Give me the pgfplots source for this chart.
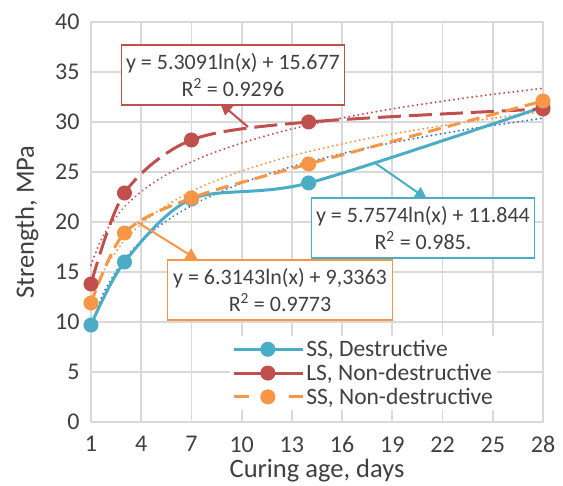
\documentclass[border=0pt]{standalone}
\usepackage{fontspec}
\setmainfont{Carlito}
\usepackage{pgfplots}
\pgfplotsset{compat=1.18}
\usetikzlibrary{arrows.meta}

\definecolor{ssd}{HTML}{4BACC6}
\definecolor{lsn}{HTML}{C0504D}
\definecolor{ssn}{HTML}{F79646}
\definecolor{fitb}{HTML}{4472C4}
\definecolor{gridgray}{HTML}{D9D9D9}
\definecolor{txt}{HTML}{404040}

% measured strengths, MPa
\pgfplotstableread{
day  ssd   lsn   ssn
1    9.7   13.8  11.9
3    16.0  22.9  18.9
7    22.3  28.2  22.4
14   23.9  30.0  25.8
28   31.5  31.3  32.1
}\strength

% logarithmic trendlines, tabulated from the equations shown
\pgfplotstableread{
x    red    org    blu
1    15.68  11.84  9.34
1.5  17.83  14.18  11.90
2    19.36  15.83  13.71
3    21.51  18.17  16.27
4    23.04  19.83  18.09
5    24.22  21.11  19.50
6    25.19  22.16  20.65
7    26.01  23.05  21.62
8    26.72  23.82  22.47
10   27.90  25.10  23.88
12   28.87  26.15  25.03
14   29.69  27.04  26.00
17   30.72  28.16  27.23
20   31.58  29.09  28.25
24   32.55  30.14  29.40
28   33.37  31.03  30.38
}\trend

\pgfplotsset{
  fitline/.style={line width=2.2pt, line cap=round, dash pattern=on 0.01pt off 4.6pt, smooth, forget plot, mark=none},
}
\tikzset{
  eqbox/.style={draw, line width=1.4pt, fill=white, align=center, text=txt,
    font=\fontsize{22}{27}\selectfont, minimum width=223pt, minimum height=60pt, inner sep=2pt},
  eqarrow/.style={line width=2pt, -{Triangle[length=12pt,width=12pt]}},
}

\begin{document}
\begin{tikzpicture}
\begin{axis}[
  name=ax,
  scale only axis, width=452pt, height=400pt,
  xmin=1, xmax=28, ymin=0, ymax=40,
  xtick={1,4,...,28}, ytick={0,5,...,40},
  grid=major, major grid style={line width=1.8pt, color=gridgray},
  axis line style={line width=1.8pt, color=gridgray},
  tick style={draw=none},
  ticklabel style={font=\fontsize{24}{28}\selectfont, text=txt},
  /pgf/number format/assume math mode=true,
  xticklabel style={yshift=-11pt},
  yticklabel style={xshift=-8pt},
  xlabel={Curing age, days}, ylabel={Strength, MPa},
  label style={font=\fontsize{26.5}{30}\selectfont, text=txt},
  xlabel style={at={(axis description cs:0.5,-0.1215)}, anchor=center},
  ylabel style={at={(axis description cs:-0.1416,0.5)}, anchor=center},
  clip=false,
  legend cell align=left,
  legend style={at={(0.898,0.03)}, anchor=south east, draw=none, fill=white,
    font=\fontsize{23.5}{26}\selectfont, text=txt, row sep=2pt,
    inner sep=2pt, nodes={inner sep=2pt}},
  legend image code/.code={
    \draw[mark repeat=2, mark phase=2] plot coordinates {(0pt,0pt) (34pt,0pt) (69pt,0pt)};},
  every axis plot/.append style={mark=*, mark size=6pt},
]
\addplot[fitline, color=lsn] table[x=x, y=red] {\trend};
\addplot[fitline, color=ssn] table[x=x, y=org] {\trend};
\addplot[fitline, color=fitb] table[x=x, y=blu] {\trend};

\addplot[color=ssd, line width=3pt, smooth, mark options={solid}] table[x=day, y=ssd] {\strength};
\addplot[color=lsn, line width=3pt, smooth, dash pattern=on 23pt off 8pt, mark options={solid},
  legend image post style={solid}] table[x=day, y=lsn] {\strength};
\addplot[color=ssn, line width=3pt, smooth, dash pattern=on 13pt off 7pt, mark options={solid},
  legend image post style={dash pattern=on 15pt off 40pt}] table[x=day, y=ssn] {\strength};
\legend{SS{,} Destructive, LS{,} Non-destructive, SS{,} Non-destructive}

\draw[eqarrow, lsn] (axis cs:10.38,29.5) -- (axis cs:8.71,31.9);
\draw[eqarrow, ssd] (axis cs:17.97,25.9) -- (axis cs:21.07,22.3);
\draw[eqarrow, ssn] (axis cs:3.75,20.0) -- (axis cs:7.39,16.2);

\node[eqbox, draw=lsn] at (axis cs:9.48,34.7) {y = 5.3091ln(x) + 15.677\\R\textsuperscript{2} = 0.9296};
\node[eqbox, draw=ssd] at (axis cs:20.83,19.4) {y = 5.7574ln(x) + 11.844\\R\textsuperscript{2} = 0.985.};
\node[eqbox, draw=ssn, minimum width=225pt] at (axis cs:12.29,13.2) {y = 6.3143ln(x) + 9,3363\\R\textsuperscript{2} = 0.9773};
\end{axis}
\pgfresetboundingbox
\path[use as bounding box] ([shift={(-91pt,-64pt)}]ax.south west) rectangle ([shift={(20pt,22pt)}]ax.north east);
\end{tikzpicture}
\end{document}
